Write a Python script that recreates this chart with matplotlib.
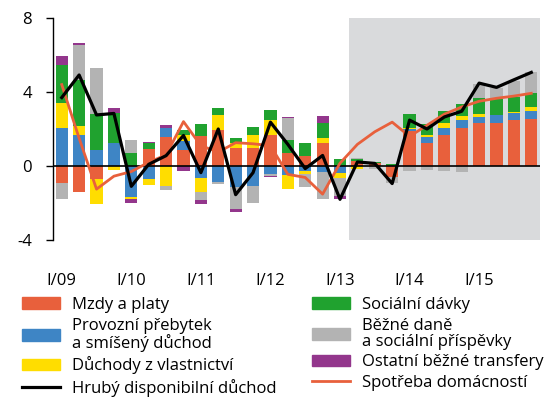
import numpy as np
import matplotlib
matplotlib.use("Agg")
import matplotlib.pyplot as plt
from matplotlib.patches import Patch
from matplotlib.lines import Line2D

plt.rcParams['font.family'] = ['Open Sans', 'DejaVu Sans']
plt.rcParams['axes.unicode_minus'] = False

# quarters I/09 .. IV/15
kvartaly = ['I/09', 'II/09', 'III/09', 'IV/09', 'I/10', 'II/10', 'III/10', 'IV/10',
            'I/11', 'II/11', 'III/11', 'IV/11', 'I/12', 'II/12', 'III/12', 'IV/12',
            'I/13', 'II/13', 'III/13', 'IV/13', 'I/14', 'II/14', 'III/14', 'IV/14',
            'I/15', 'II/15', 'III/15', 'IV/15']
tick_labels = ['I/09', 'I/10', 'I/11', 'I/12', 'I/13', 'I/14', 'I/15']

mzdy = [-0.92, -1.42, -0.72, 0, 0, 0.91, 1.56, 0.85, 1.61, 1.92, 0.95, 0.95, 1.65, 0.72,
        0.54, 1.26, 0, 0.29, 0.15, -0.59, 1.87, 1.26, 1.65, 2.03, 2.33, 2.33, 2.46, 2.55]
provozni = [2.03, 1.65, 0.85, 1.26, -1.67, -0.72, 0.52, 0.49, -0.66, -0.84, -1.16, -1.08, -0.45, -0.5,
            -0.27, -0.32, -0.38, 0, 0, 0, 0.11, 0.3, 0.43, 0.43, 0.34, 0.45, 0.42, 0.45]
duchody_vl = [1.40, 0.49, -1.33, -0.23, -0.13, -0.31, -1.1, 0.36, -0.77, 0.81, 0.3, 0.75, 0.86, -0.75,
              -0.18, 0.23, -0.29, -0.18, 0, 0, 0.09, 0.1, 0.26, 0.22, 0.16, 0, 0.06, 0.17]
socialni = [2.03, 2.53, 1.98, 1.6, 0.68, 0.33, 0, 0.27, 0.64, 0.41, 0.27, 0.41, 0.54, 0.66,
            0.68, 0.84, 0.39, 0.1, 0.09, 0.1, 0.72, 0.63, 0.65, 0.65, 0.85, 0.85, 0.78, 0.75]
dane = [-0.87, 1.88, 2.47, 0, 0.75, 0, -0.19, 0, -0.41, -0.14, -1.14, -0.93, -0.09, 1.22,
        -0.68, -1.47, -0.95, 0.06, -0.15, -0.32, -0.27, -0.23, -0.29, -0.33, 0.75, 0.6, 0.85, 1.15]
ostatni = [0.49, 0.1, 0, 0.25, -0.21, 0.08, 0.11, -0.28, -0.2, 0, -0.2, 0, -0.05, 0.05,
           0.05, 0.39, -0.14, 0, 0, 0, 0, 0, 0, 0, 0, 0, 0, 0]

hdd = [3.7, 4.92, 2.76, 2.84, -1.1, 0.09, 0.56, 1.65, -0.36, 2.0, -1.55, -0.36, 2.37, 1.17,
       -0.14, 0.57, -1.8, 0.22, 0.14, -0.95, 2.48, 2.0, 2.65, 2.96, 4.48, 4.25, 4.66, 5.06]
spotreba = [4.4, 1.5, -1.25, -0.55, -0.3, 0.2, 0.6, 2.4, 1.1, 0.75, 1.26, 1.2, 1.1, -0.45,
            -0.62, -1.52, 0.15, 1.17, 1.85, 2.37, 1.6, 2.2, 2.8, 3.19, 3.5, 3.66, 3.78, 3.93]

slozky = [mzdy, provozni, duchody_vl, socialni, dane, ostatni]
nazvy = ['Mzdy a platy', 'Provozní přebytek\na smíšený důchod', 'Důchody z vlastnictví',
         'Sociální dávky', 'Běžné daně\na sociální příspěvky', 'Ostatní běžné transfery']
barvy = ['#E8603C', '#3E85C5', '#FFDD00', '#20A22F', '#B3B3B3', '#93368C']

fig = plt.figure(figsize=(5.52, 4.03), dpi=100)
ax = fig.add_axes([52.7/552, 1-240/403, (540-52.7)/552, 222/403])

x = np.arange(len(kvartaly))
ax.axvspan(16.5, 27.5, color='#D9DADC', zorder=0, lw=0)

pos = np.zeros(len(x))
neg = np.zeros(len(x))
for vals, c in zip(slozky, barvy):
    v = np.array(vals)
    bottom = np.where(v >= 0, pos, neg)
    ax.bar(x, v, 0.7, bottom=bottom, color=c, zorder=2, lw=0)
    pos = pos + np.clip(v, 0, None)
    neg = neg + np.clip(v, None, 0)

ax.axhline(0, color='black', lw=1.2, zorder=3)
ax.plot(x, spotreba, color='#E8603C', lw=2.0, zorder=4)
ax.plot(x, hdd, color='black', lw=2.3, zorder=5)

ax.set_xlim(-0.52, 27.5)
ax.set_ylim(-4, 8)
ax.set_yticks([-4, 0, 4, 8])
ax.set_xticks(np.arange(0, 28, 4))
ax.set_xticklabels(tick_labels)
for s in ['top', 'right', 'bottom']:
    ax.spines[s].set_visible(False)
ax.spines['left'].set_linewidth(1.0)
ax.tick_params(axis='y', length=5, width=1, pad=10, labelsize=12)
ax.tick_params(axis='x', length=0, pad=24, labelsize=12)

h1 = [Patch(color=barvy[0]), Patch(color=barvy[1]), Patch(color=barvy[2]),
      Line2D([], [], color='black', lw=2.3)]
l1 = [nazvy[0], nazvy[1], nazvy[2], 'Hrubý disponibilní důchod']
h2 = [Patch(color=barvy[3]), Patch(color=barvy[4]), Patch(color=barvy[5]),
      Line2D([], [], color='#E8603C', lw=2.0)]
l2 = [nazvy[3], nazvy[4], nazvy[5], 'Spotřeba domácností']

kw = dict(loc='upper left', frameon=False, fontsize=12, handlelength=2.3,
          handleheight=0.7, handletextpad=0.7, labelspacing=0.28, borderpad=0, borderaxespad=0)
for h, l, x0 in [(h1, l1, 22), (h2, l2, 312)]:
    leg = fig.legend(h, l, bbox_to_anchor=(x0/552, 1-297/403), **kw)
    for t in leg.get_texts():
        t.set_linespacing(1.0)

fig.savefig('out.png', dpi=100)
